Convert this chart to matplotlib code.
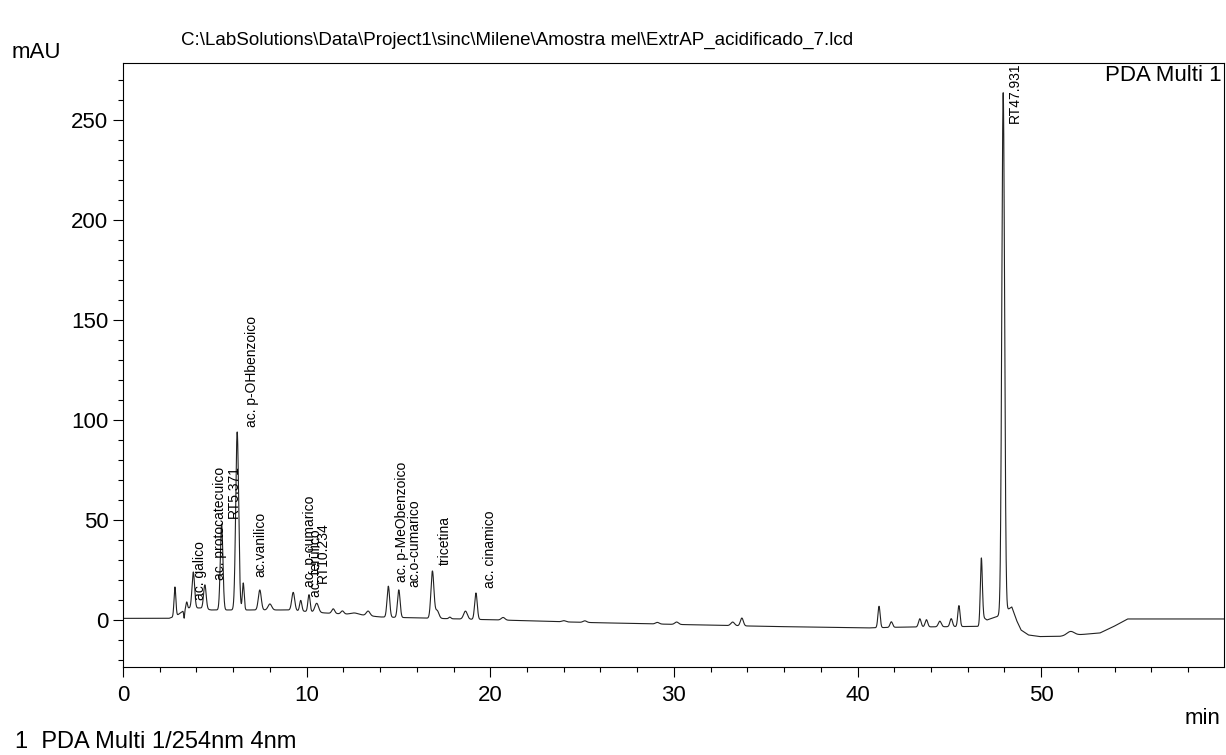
import numpy as np
import matplotlib
matplotlib.use('Agg')
import matplotlib.pyplot as plt
from matplotlib.ticker import MultipleLocator

plt.rcParams['font.family'] = ['Liberation Sans', 'DejaVu Sans']

# baseline knots (min, mAU)
base_t = [0.0, 2.5, 2.9, 3.5, 4.2, 4.8, 9.0, 11.0, 13.0, 14.0, 17.0, 20.5, 25.0, 31.5,
          35.0, 40.5, 42.3, 46.7, 46.85, 47.05, 47.35, 47.6, 48.4, 48.65, 48.9, 49.3,
          49.9, 51.0, 53.2, 53.9, 54.7, 60.0]
base_y = [0.8, 0.8, 2.0, 6.0, 6.0, 5.0, 5.0, 3.5, 2.5, 1.5, 0.8, 0.0, -1.2, -2.5,
          -3.2, -4.0, -3.6, -3.2, 1.2, 0.0, 1.0, 1.7, 6.5, 0.0, -5.0, -7.5,
          -8.3, -8.2, -6.5, -3.5, 0.5, 0.5]

# peak table: retention time (min), height above baseline (mAU), width sigma (min)
peak_rt = [2.83, 3.33, 3.47, 3.83, 4.46, 5.371, 6.22, 6.55, 7.45, 8.0, 9.27, 9.68,
           10.13, 10.55, 11.45, 11.95, 12.6, 13.35, 14.45, 15.02, 16.85, 17.1, 17.8,
           18.65, 19.22, 20.7, 24.0, 25.15, 29.1, 30.15, 33.2, 33.7, 41.17, 41.84,
           43.39, 43.75, 44.48, 45.1, 45.52, 46.74, 47.931, 51.6]
peak_height = [14.7, -4.0, 3.2, 18.0, 12.0, 43.0, 89.0, 13.5, 10.0, 3.0, 9.0, 5.3,
               8.5, 4.5, 2.3, 1.5, 0.8, 2.3, 15.5, 13.8, 23.5, 4.0, 0.8,
               4.0, 13.2, 1.3, 0.6, 0.8, 0.8, 1.2, 1.8, 3.9, 10.7, 2.8,
               4.1, 3.6, 2.8, 4.0, 10.5, 33.0, 260.0, 2.0]
peak_sigma = [0.05, 0.025, 0.04, 0.07, 0.07, 0.07, 0.08, 0.05, 0.08, 0.1, 0.08, 0.06,
              0.06, 0.1, 0.08, 0.08, 0.2, 0.1, 0.07, 0.07, 0.08, 0.1, 0.06,
              0.1, 0.07, 0.1, 0.1, 0.1, 0.1, 0.1, 0.1, 0.08, 0.06, 0.07,
              0.07, 0.07, 0.08, 0.07, 0.06, 0.055, 0.075, 0.2]

# peak labels: name, retention time, label height (mAU)
label_text = ['ac. galico', 'ac. protocatecuico', 'RT5.371', 'ac. p-OHbenzoico',
              'ac.vanilico', 'ac. p-cumarico', 'ac. ferulico', 'RT10.234',
              'ac. p-MeObenzoico', 'ac.o-cumarico', 'tricetina', 'ac. cinamico',
              'RT47.931']
label_rt = [3.54, 4.63, 5.371, 6.37, 6.81, 9.53, 9.86, 10.234, 14.55, 15.2, 16.89,
            19.35, 47.931]
label_h = [9, 19, 50, 95.5, 20.5, 15.5, 10.5, 17.5, 18, 15.5, 26.5, 15, 247.5]

t = np.linspace(0, 60, 24001)
signal = np.interp(t, base_t, base_y)
for rt, h, s in zip(peak_rt, peak_height, peak_sigma):
    signal += h * np.exp(-0.5 * ((t - rt) / s) ** 2)

fig = plt.figure(figsize=(12.26, 7.55), dpi=100)
ax = fig.add_axes([0.1003, 0.1166, 0.898, 0.8])

ax.plot(t, signal, color='#222222', lw=0.8)

for name, rt, h in zip(label_text, label_rt, label_h):
    ax.annotate(name, (rt, h), xytext=(5, 2), textcoords='offset pixels',
                rotation=90, ha='left', va='bottom', fontsize=10)

# axis stops just short of 60 so no "60" label is printed
ax.set_xlim(0, 59.95)
ax.set_ylim(-23.5, 278.5)
ax.xaxis.set_major_locator(MultipleLocator(10))
ax.xaxis.set_minor_locator(MultipleLocator(2))
ax.yaxis.set_major_locator(MultipleLocator(50))
ax.yaxis.set_minor_locator(MultipleLocator(10))
ax.tick_params(which='major', length=7, width=0.8, labelsize=16, direction='out')
ax.tick_params(which='minor', length=3.5, width=0.8, direction='out')
ax.tick_params(axis='x', which='major', pad=6)
for sp in ax.spines.values():
    sp.set_linewidth(0.8)

ax.text(0.998, 0.997, 'PDA Multi 1', transform=ax.transAxes, ha='right', va='top',
        fontsize=16)

fig.text(517 / 1226, 1 - 40 / 755,
         r'C:\LabSolutions\Data\Project1\sinc\Milene\Amostra mel\ExtrAP_acidificado_7.lcd',
         ha='center', va='center', fontsize=13.5)
fig.text(12 / 1226, 1 - 52 / 755, 'mAU', ha='left', va='center', fontsize=16)
fig.text(1220 / 1226, 1 - 718 / 755, 'min', ha='right', va='center', fontsize=16)
fig.text(15 / 1226, 1 - 742 / 755, '1  PDA Multi 1/254nm 4nm', ha='left', va='center',
         fontsize=17)

fig.savefig('out.png', dpi=100)
